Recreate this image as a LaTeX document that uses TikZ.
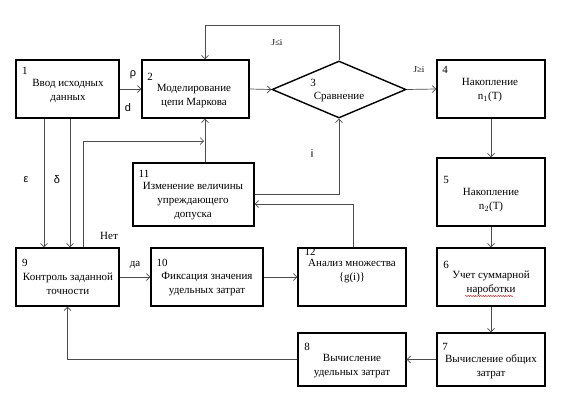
\documentclass[tikz,border=0pt]{standalone}
\usepackage{fontspec}
\setmainfont{Liberation Serif}
\newfontfamily\serf{Liberation Serif}
\newfontfamily\sansf{Liberation Sans}
\usetikzlibrary{arrows.meta,shapes.geometric,decorations.pathmorphing}
\begin{document}
\begin{tikzpicture}[x=1pt,y=-1pt,
  font=\serf\fontsize{11}{14}\selectfont,
  blk/.style={draw=black, line width=1.4pt, inner sep=0pt},
  conn/.style={draw=black!70, line width=0.7pt},
  arr/.style={conn, -{Straight Barb[length=3.5pt,width=7pt]}},
  num/.style={inner sep=0pt},
  txt/.style={align=center, inner sep=0pt},
  lbl/.style={inner sep=0pt},
  slbl/.style={inner sep=0pt, font=\sansf\fontsize{11}{13}\selectfont}]
\useasboundingbox[fill=white] (0,0) rectangle (571,413);

% blocks
\node[blk, minimum width=103pt, minimum height=58pt] (b1) at (67.5,89) {};
\node[blk, minimum width=107pt, minimum height=58pt] (b2) at (195.5,89) {};
\node[blk, diamond, minimum width=134pt, minimum height=57pt] (b3) at (339,89.5) {};
\node[blk, minimum width=108pt, minimum height=58pt] (b4) at (491,89) {};
\node[blk, minimum width=108pt, minimum height=68pt] (b5) at (491,192) {};
\node[blk, minimum width=108pt, minimum height=58pt] (b6) at (491,277) {};
\node[blk, minimum width=108pt, minimum height=53pt] (b7) at (491,359.5) {};
\node[blk, minimum width=108pt, minimum height=53pt] (b8) at (352,359.5) {};
\node[blk, minimum width=103pt, minimum height=58pt] (b9) at (67.5,277) {};
\node[blk, minimum width=112pt, minimum height=58pt] (b10) at (207,277) {};
\node[blk, minimum width=121pt, minimum height=63pt] (b11) at (193.5,194.5) {};
\node[blk, minimum width=108pt, minimum height=58pt] (b12) at (352,277) {};

% numbers
\node[num] (n1) at (25,71) {1};
\node[num] (n2) at (150,77) {2};
\node[num] (n3) at (313,83) {3};
\node[num] (n4) at (445,70) {4};
\node[num] (n5) at (446,180) {5};
\node[num] (n6) at (446,265) {6};
\node[num] (n7) at (445,347) {7};
\node[num] (n8) at (307,347) {8};
\node[num] (n9) at (25,263) {9};
\node[num] (n10) at (162,263) {10};
\node[num] (n11) at (144,174) {11};
\node[num] (n12) at (310,252) {12};

% texts
\node[txt] (t1) at (68,90.5) {Ввод исходных\\данных};
\node[txt] (t2) at (194,96.5) {Моделирование\\цепи Маркова};
\node[txt] (t3) at (339,97) {Сравнение};
\node[txt] (t4) at (490,90.5) {Накопление\\n$_1$(T)};
\node[txt] (t5) at (491,200.5) {Накопление\\n$_2$(T)};
\node[txt] (t6) at (491,283) {Учет суммарной\\нароботки};
\node[txt] (t7) at (491,366.5) {Вычисление общих\\затрат};
\node[txt] (t8) at (352,366.5) {Вычисление\\удельных затрат};
\node[txt] (t12) at (352,271.5) {Анализ множества\\\{g(i)\}};
\node[txt] (t9) at (68,284) {Контроль заданной\\точности};
\node[txt] (t10) at (207,284) {Фиксация значения\\удельных затрат};
\node[txt] (t11) at (193,201.5) {Изменение величины\\упреждающего\\допуска};

% spell-check underline
\draw[red!85!black, line width=0.4pt, decorate, decoration={snake, amplitude=0.6pt, segment length=2.5pt}] (465,296) -- (513,296);

% coordinates
\coordinate (top) at (205,25);
\coordinate (fb) at (204,141);

% connectors
\draw[arr] (b1.east) -- (b2.west);
\draw[arr] (b2.east) -- (b3.west);
\draw[arr] (b3.east) -- (b4.west);
\draw[arr] (b3.north) |- (top) -- ([xshift=9.5pt]b2.north);
\draw[arr] (b4.south) -- (b5.north);
\draw[arr] (b5.south) -- (b6.north);
\draw[arr] (b6.south) -- (b7.north);
\draw[arr] (b7.west) -- (b8.east);
\draw[arr] (b8.west) -| (b9.south);
\draw[arr] ([xshift=-23.5pt]b1.south) -- ([xshift=-23.5pt]b9.north);
\draw[arr] ([xshift=2.5pt]b1.south) -- ([xshift=2.5pt]b9.north);
\draw[arr] ([xshift=15.5pt]b9.north) |- (fb);
\draw[arr] ([xshift=11.5pt]b11.north) -- ([xshift=9.5pt]b2.south);
\draw[arr] (b9.east) -- (b10.west);
\draw[arr] (b10.east) -- (b12.west);
\draw[arr] ([xshift=1pt]b12.north) |- ([yshift=-9.5pt]b11.east);
\draw[arr] (b11.east) -| (b3.south);

% labels
\node[slbl] (lr) at (133,75) {ρ};
\node[slbl] (ld) at (128,108) {d};
\node[slbl] (le) at (26,180) {ε};
\node[slbl] (ldl) at (57,180) {δ};
\node[slbl] (li) at (312,154) {i};
\node[lbl] (lle) at (277,43) {\fontsize{9}{11}\selectfont J≤i};
\node[lbl] (lge) at (419,70) {\fontsize{9}{11}\selectfont J≥i};
\node[lbl] (lno) at (109,236) {Нет};
\node[lbl] (lyes) at (135,265) {да};
\end{tikzpicture}
\end{document}
